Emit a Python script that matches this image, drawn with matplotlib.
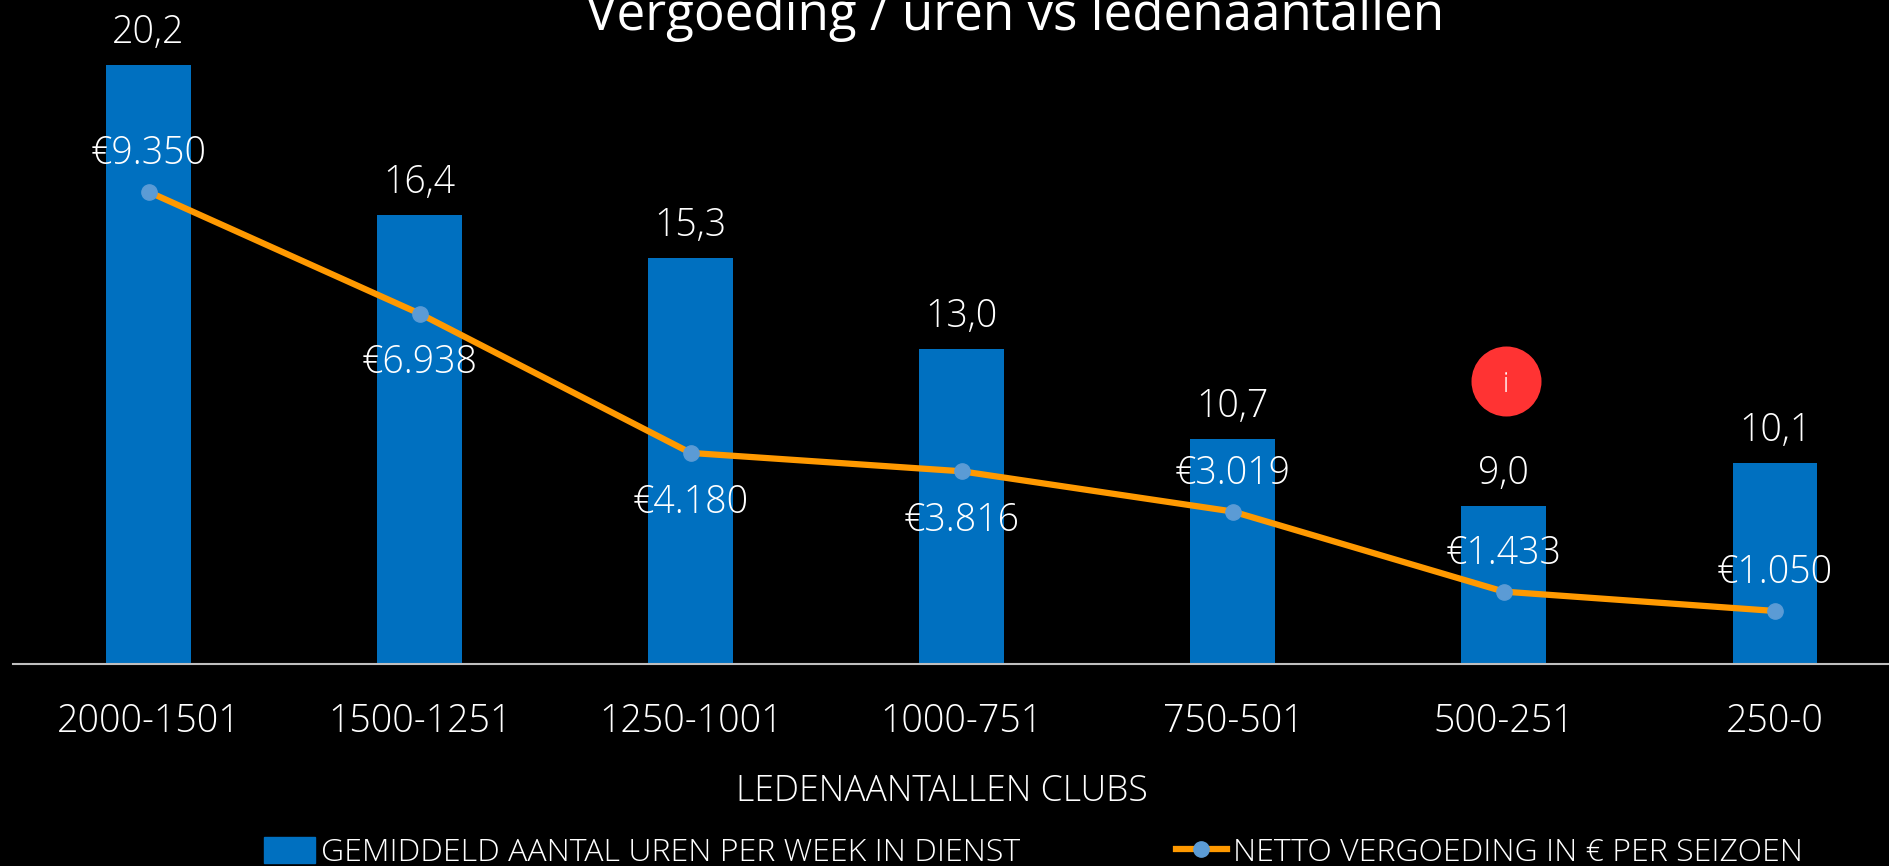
#!/usr/bin/env python3
import matplotlib
matplotlib.use('Agg')
import matplotlib.pyplot as plt
from matplotlib.patches import Ellipse
from matplotlib.lines import Line2D
from matplotlib.patches import Patch

#Data
#===========================================================================
categories = ['2000-1501', '1500-1251', '1250-1001', '1000-751', '750-501', '500-251', '250-0']
uren = [20.2, 16.4, 15.3, 13.0, 10.7, 9.0, 10.1]
vergoeding = [9350, 6938, 4180, 3816, 3019, 1433, 1050]
# label above (+) or below (-) the point
label_side = [1, -1, -1, -1, 1, 1, 1]

W, H = 1890, 866
plt.rcParams['font.family'] = ['Open Sans', 'DejaVu Sans']
plt.rcParams['font.weight'] = 300

fig = plt.figure(figsize=(W / 100, H / 100), dpi=100, facecolor='black')
ax = fig.add_axes([13 / W, (H - 664) / H, 1897.5 / W, 664 / H])
ax.set_facecolor('black')

x = list(range(len(categories)))
bars = ax.bar(x, uren, width=0.313, color='#0070C0')
ax.set_xlim(-0.5, 6.5)
ax.set_ylim(5, 5 + 664 / 39.4)
ax.set_yticks([])
for s in ['top', 'left', 'right']:
    ax.spines[s].set_visible(False)
ax.spines['bottom'].set_color('#BFBFBF')
ax.spines['bottom'].set_linewidth(1.5)
ax.set_xticks(x)
ax.set_xticklabels(categories, fontsize=27, color='white')
ax.tick_params(axis='x', length=0, pad=27.5)

for i, v in enumerate(uren):
    ax.annotate(f'{v:.1f}'.replace('.', ','), (i, v), xytext=(0, 16), textcoords='offset points',
                ha='center', va='baseline', fontsize=27, color='white')

ax2 = ax.twinx()
ax2.set_ylim(0, 664 / 0.0505)
ax2.set_yticks([])
for s in ax2.spines.values():
    s.set_visible(False)
ax2.plot(x, vergoeding, color='#FF9900', lw=4.5, marker='o', ms=11, mfc='#5B9BD5', mec='#5B9BD5', solid_capstyle='round')

for i, v in enumerate(vergoeding):
    txt = '€' + f'{v:,}'.replace(',', '.')
    off = 20 if label_side[i] > 0 else -43
    ax2.annotate(txt, (i, v), xytext=(0, off), textcoords='offset points',
                 ha='center', va='baseline', fontsize=27, color='white')

fig.text(1015 / W, (H - 30) / H, 'Vergoeding / uren vs ledenaantallen', ha='center', va='baseline',
         fontsize=36.8, color='white', fontweight=400)
fig.text(942 / W, (H - 801) / H, 'LEDENAANTALLEN CLUBS', ha='center', va='baseline', fontsize=25.6, color='white')

# red info bubble
fig.add_artist(Ellipse((1506.5 / W, (H - 381.5) / H), 70 / W, 70 / H, transform=fig.transFigure, color='#FF3333', lw=0))
fig.text(1506 / W, (H - 392) / H, 'i', ha='center', va='baseline', fontsize=20, color='white')

handles = [Patch(color='#0070C0'),
           Line2D([], [], color='#FF9900', lw=4.5, marker='o', ms=11, mfc='#5B9BD5', mec='#5B9BD5')]
leg = fig.legend(handles, ['GEMIDDELD AANTAL UREN PER WEEK IN DIENST', 'NETTO VERGOEDING IN € PER SEIZOEN'],
                 ncol=2, loc='center', bbox_to_anchor=(1033.5 / W, (H - 853) / H), frameon=False, fontsize=23,
                 labelcolor='white', handlelength=1.6, handleheight=0.9, handletextpad=0.2, columnspacing=4.86,
                 borderpad=0, borderaxespad=0)

fig.savefig('out.png', dpi=100, facecolor='black')
